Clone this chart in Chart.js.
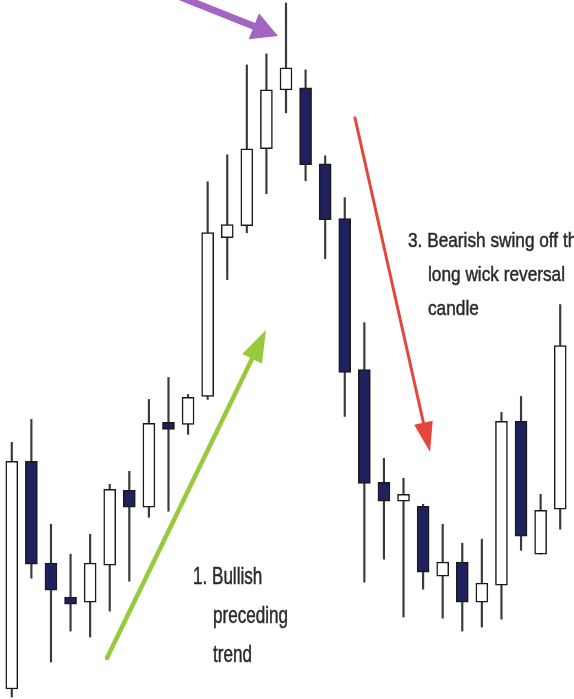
<!DOCTYPE html>
<html lang="en">
<head>
  <meta charset="UTF-8">
  <title>Long wick reversal candle</title>
  <script src="https://cdn.jsdelivr.net/npm/chart.js"></script>
  <style>
    body { margin: 0; background: #fff; }
    .wrap { width: 574px; height: 699px; position: relative; }
  </style>
</head>
<body>
<div class="wrap">
  <canvas id="candles"></canvas>
</div>

<script>
  // prices (arbitrary units, up = higher)
  const opens  = [10, 238, 136, 102, 97, 134, 209, 192, 277, 275, 303, 462, 474, 551, 610, 612, 536, 481, 330, 217, 198, 193, 123, 137, 97, 114, 278, 145, 190];
  const closes = [238, 135, 109, 95, 136, 210, 192, 276, 270, 302, 467, 475, 551, 610, 632, 535, 480, 327, 216, 198, 205, 127, 137, 97, 116, 278, 163, 189, 354];
  const highs  = [257, 280, 175, 145, 165, 215, 228, 300, 322, 305, 518, 545, 635, 646, 697, 630, 544, 502, 377, 241, 221, 195, 175, 156, 160, 287, 303, 205, 395];
  const lows   = [2, 121, 37, 68, 62, 88, 118, 182, 188, 265, 300, 420, 467, 506, 587, 519, 441, 283, 117, 140, 82, 110, 81, 68, 72, 80, 149, 145, 170];
  const labels = opens.map((_, i) => 'D' + (i + 1));

  const navy = '#1f205e';
  const bodyColors = opens.map((o, i) => closes[i] >= o ? '#ffffff' : navy);

  function arrow(ctx, x1, y1, x2, y2, color, lw, headLen, headW) {
    const a = Math.atan2(y2 - y1, x2 - x1);
    const bx = x2 - Math.cos(a) * headLen, by = y2 - Math.sin(a) * headLen;
    ctx.save();
    ctx.strokeStyle = color;
    ctx.fillStyle = color;
    ctx.lineWidth = lw;
    ctx.lineCap = 'round';
    ctx.beginPath();
    ctx.moveTo(x1, y1);
    ctx.lineTo(bx, by);
    ctx.stroke();
    const nx = -Math.sin(a) * headW / 2, ny = Math.cos(a) * headW / 2;
    ctx.beginPath();
    ctx.moveTo(x2, y2);
    ctx.lineTo(bx + nx, by + ny);
    ctx.lineTo(bx - nx, by - ny);
    ctx.closePath();
    ctx.fill();
    ctx.restore();
  }

  // condensed text: squeeze horizontally so the reference line hits the target width
  function textBlock(ctx, lines, x, y, size, lineH, refIdx, refWidth) {
    ctx.save();
    ctx.font = size + 'px "Liberation Sans", Arial, sans-serif';
    ctx.fillStyle = '#2a2a2a';
    ctx.strokeStyle = '#2a2a2a';
    ctx.lineWidth = 0.5;
    ctx.textBaseline = 'alphabetic';
    const sx = refWidth / ctx.measureText(lines[refIdx].t).width;
    lines.forEach((l, i) => {
      ctx.save();
      ctx.translate(x + (l.dx || 0), y + i * lineH);
      ctx.scale(sx, 1);
      ctx.fillText(l.t, 0, 0);
      ctx.strokeText(l.t, 0, 0);
      ctx.restore();
    });
    ctx.restore();
  }

  const notes = {
    id: 'notes',
    afterDraw(chart) {
      const ctx = chart.ctx;
      arrow(ctx, 178, -4, 278, 36, '#a365c2', 7, 26, 28);
      arrow(ctx, 107, 658, 266, 330, '#99c93c', 4.5, 32, 22);
      arrow(ctx, 355, 118, 430, 452, '#e5463c', 3, 30, 19);
      textBlock(ctx, [{ t: '1. Bullish' }, { t: 'preceding', dx: 20 }, { t: 'trend', dx: 20 }],
        193, 584, 24, 39, 1, 75);
      textBlock(ctx, [{ t: '3. Bearish swing off the' }, { t: 'long wick reversal', dx: 20 }, { t: 'candle', dx: 20 }],
        408, 247, 21, 34, 1, 137);
    }
  };

  new Chart(document.getElementById('candles'), {
    type: 'bar',
    data: {
      labels: labels,
      datasets: [
        {
          label: 'Body',
          data: opens.map((o, i) => [o, closes[i]]),
          backgroundColor: bodyColors,
          borderColor: '#1a1a1a',
          borderWidth: 1.5,
          borderSkipped: false,
          barThickness: 12,
          grouped: false
        },
        {
          label: 'Wick',
          data: lows.map((l, i) => [l, highs[i]]),
          backgroundColor: '#3a3a3a',
          borderWidth: 0,
          barThickness: 1.5,
          grouped: false
        }
      ]
    },
    options: {
      responsive: true,
      maintainAspectRatio: false,
      animation: false,
      layout: { padding: { left: 2, right: 4, top: 0, bottom: 0 } },
      plugins: { legend: { display: false }, tooltip: { enabled: false } },
      scales: {
        x: { display: false, offset: true },
        y: { display: false, min: 0, max: 700 }
      }
    },
    plugins: [notes]
  });
</script>
</body>
</html>
